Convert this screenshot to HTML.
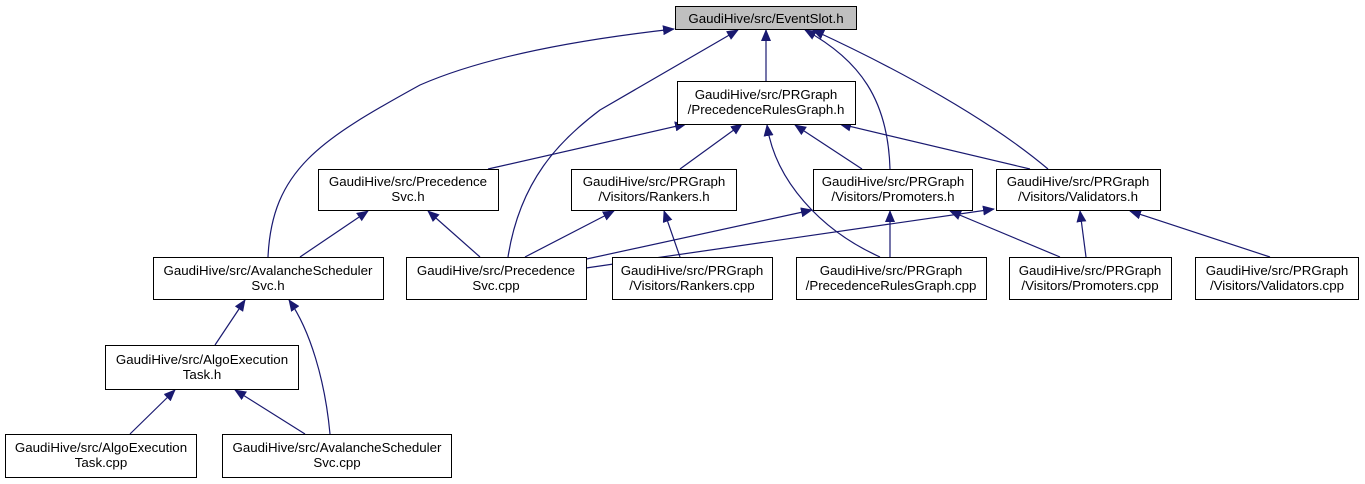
<!DOCTYPE html>
<html><head><meta charset="utf-8"><style>
html,body{margin:0;padding:0;background:#fff;}
svg{display:block;font-family:"Liberation Sans",sans-serif;font-size:13.3px;}
</style></head><body>
<svg width="1365" height="484" viewBox="0 0 1365 484" xmlns="http://www.w3.org/2000/svg">
<defs><marker id="a" markerWidth="12" markerHeight="10" refX="11" refY="5" orient="auto" markerUnits="userSpaceOnUse"><path d="M0,0 L12,5 L0,10 z" fill="#191970"/></marker></defs>
<g fill="none" stroke="#191970" stroke-width="1.2" marker-end="url(#a)">
<path d="M766,81 L766,30"/>
<path d="M268,257 C272,170 320,140 420,85 C500,50 620,35 674,29"/>
<path d="M508,257 C520,180 560,140 600,110 L738,30"/>
<path d="M890,169 C888,100 860,60 805,30"/>
<path d="M1048,169 C990,120 900,70 813,30"/>
<path d="M488,169 L686,124"/>
<path d="M680,169 L742,124"/>
<path d="M880,257 C820,230 775,180 767,125"/>
<path d="M862,169 L795,125"/>
<path d="M1030,169 L840,124"/>
<path d="M300,257 L368,211"/>
<path d="M480,257 L428,211"/>
<path d="M525,257 L614,211"/>
<path d="M680,257 L664,211"/>
<path d="M582,260 L812,210"/>
<path d="M586,268 L994,209"/>
<path d="M890,257 L890,211"/>
<path d="M1060,257 L950,211"/>
<path d="M1086,257 L1080,211"/>
<path d="M1270,257 L1130,211"/>
<path d="M215,345 L245,300"/>
<path d="M330,434 C325,380 310,330 289,300"/>
<path d="M130,434 L175,390"/>
<path d="M305,434 L235,390"/>
</g>
<g stroke="#000" stroke-width="1">
<rect x="675.5" y="6.5" width="181" height="23" fill="#bfbfbf"/>
<rect x="677.5" y="81.5" width="178" height="43" fill="#fff"/>
<rect x="318.5" y="169.5" width="180" height="41" fill="#fff"/>
<rect x="571.5" y="169.5" width="165" height="41" fill="#fff"/>
<rect x="813.5" y="169.5" width="159" height="41" fill="#fff"/>
<rect x="996.5" y="169.5" width="164" height="41" fill="#fff"/>
<rect x="153.5" y="257.5" width="230" height="42" fill="#fff"/>
<rect x="406.5" y="257.5" width="180" height="42" fill="#fff"/>
<rect x="612.5" y="257.5" width="160" height="42" fill="#fff"/>
<rect x="796.5" y="257.5" width="190" height="42" fill="#fff"/>
<rect x="1009.5" y="257.5" width="162" height="42" fill="#fff"/>
<rect x="1195.5" y="257.5" width="163" height="42" fill="#fff"/>
<rect x="105.5" y="345.5" width="193" height="44" fill="#fff"/>
<rect x="5.5" y="434.5" width="191" height="43" fill="#fff"/>
<rect x="222.5" y="434.5" width="229" height="43" fill="#fff"/>
</g>
<g fill="#000" text-anchor="middle">
<text x="766" y="23">GaudiHive/src/EventSlot.h</text>
<text x="766" y="99">GaudiHive/src/PRGraph</text><text x="766" y="114">/PrecedenceRulesGraph.h</text>
<text x="408" y="186">GaudiHive/src/Precedence</text><text x="408" y="201">Svc.h</text>
<text x="654" y="186">GaudiHive/src/PRGraph</text><text x="654" y="201">/Visitors/Rankers.h</text>
<text x="893" y="186">GaudiHive/src/PRGraph</text><text x="893" y="201">/Visitors/Promoters.h</text>
<text x="1078" y="186">GaudiHive/src/PRGraph</text><text x="1078" y="201">/Visitors/Validators.h</text>
<text x="268" y="275">GaudiHive/src/AvalancheScheduler</text><text x="268" y="290">Svc.h</text>
<text x="496" y="275">GaudiHive/src/Precedence</text><text x="496" y="290">Svc.cpp</text>
<text x="692" y="275">GaudiHive/src/PRGraph</text><text x="692" y="290">/Visitors/Rankers.cpp</text>
<text x="891" y="275">GaudiHive/src/PRGraph</text><text x="891" y="290">/PrecedenceRulesGraph.cpp</text>
<text x="1090" y="275">GaudiHive/src/PRGraph</text><text x="1090" y="290">/Visitors/Promoters.cpp</text>
<text x="1277" y="275">GaudiHive/src/PRGraph</text><text x="1277" y="290">/Visitors/Validators.cpp</text>
<text x="202" y="364">GaudiHive/src/AlgoExecution</text><text x="202" y="379">Task.h</text>
<text x="101" y="452">GaudiHive/src/AlgoExecution</text><text x="101" y="467">Task.cpp</text>
<text x="337" y="452">GaudiHive/src/AvalancheScheduler</text><text x="337" y="467">Svc.cpp</text>
</g>
</svg>
</body></html>
